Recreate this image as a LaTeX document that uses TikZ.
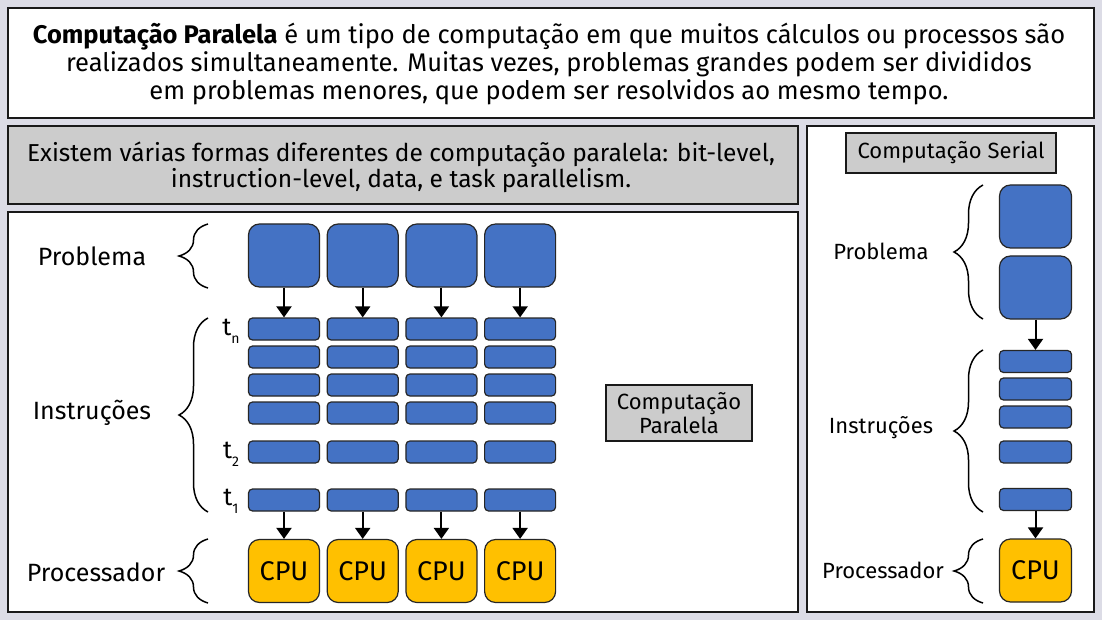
\documentclass[tikz,border=0pt]{standalone}
\usepackage{fontspec}
\setmainfont{Fira Sans}
\usetikzlibrary{arrows.meta, decorations.pathreplacing}
\definecolor{backdrop}{RGB}{220,220,230}
\definecolor{taskblue}{RGB}{68,114,196}
\definecolor{cpuyellow}{RGB}{255,192,0}
\definecolor{taggray}{RGB}{204,204,204}

\begin{document}
\begin{tikzpicture}[x=1pt, y=-1pt, >={Triangle[length=11pt, width=15pt]},
    panel/.style={draw=black!90, line width=2pt, fill=white},
    tag/.style={draw=black!90, line width=1.6pt, fill=taggray, align=center,
        inner sep=0pt, font=\fontsize{22}{24}\selectfont},
    block/.style={draw=black!85, line width=1.2pt, fill=taskblue, rounded corners=11pt,
        minimum width=71pt, minimum height=63pt, inner sep=0pt},
    instr/.style={block, rounded corners=4pt, minimum height=22pt},
    cpu/.style={block, fill=cpuyellow, font=\fontsize{27}{28}\selectfont},
    curly/.style={decorate, decoration={brace, amplitude=29pt}, line width=1.5pt},
    flow/.style={->, line width=2pt},
    side/.style={font=\fontsize{25}{28}\selectfont},
    sideR/.style={font=\fontsize{22}{24}\selectfont},
    tlabel/.style={font=\fontsize{25}{28}\selectfont}]
    % background and panels
    \fill[backdrop] (0,0) rectangle (1102,620);
    \draw[panel] (8,8) rectangle (1094,118);
    \draw[panel, fill=taggray] (8,126) rectangle (798,204);
    \draw[panel] (8,212) rectangle (798,612);
    \draw[panel] (807,126) rectangle (1094,612);

    \node[align=center, font=\fontsize{25.5}{28}\selectfont] (intro) at (549,64)
        {{\bfseries Computação Paralela} é um tipo de computação em que muitos cálculos ou processos são\\
         realizados simultaneamente. Muitas vezes, problemas grandes podem ser divididos\\
         em problemas menores, que podem ser resolvidos ao mesmo tempo.};
    \node[align=center, font=\fontsize{24.5}{26}\selectfont] (forms) at (401,167)
        {Existem várias formas diferentes de computação paralela: bit-level,\\
         instruction-level, data, e task parallelism.};

    % parallel side
    \foreach \i in {0,...,3} {
        \pgfmathsetmacro{\cx}{284+78.7*\i}
        \node[block] (p\i) at (\cx,255.5) {};
        \foreach \r/\ry in {6/329, 5/357, 4/385, 3/413, 2/452, 1/500}
            \node[instr] (r\r-\i) at (\cx,\ry) {};
        \node[cpu] (c\i) at (\cx,571) {CPU};
        \draw[flow] (p\i) -- (r6-\i);
        \draw[flow] (r1-\i) -- (c\i);
    }
    \node[tlabel] (tn) at (231,331) {t\raisebox{-8pt}{\fontsize{14}{14}\selectfont n}};
    \node[tlabel] (t2) at (231,454) {t\raisebox{-8pt}{\fontsize{14}{14}\selectfont 2}};
    \node[tlabel] (t1) at (231,501) {t\raisebox{-8pt}{\fontsize{14}{14}\selectfont 1}};

    \draw[curly] (208,288) -- (208,224);
    \draw[curly] (208,512) -- (208,318);
    \draw[curly] (208,603) -- (208,539);
    \node[side] (probL) at (92,256) {Problema};
    \node[side] (instL) at (92,413) {Instruções};
    \node[side] (procL) at (96,572) {Processador};

    \node[tag, minimum width=146pt, minimum height=56pt] (partag) at (679,413) {Computação\\Paralela};

    % serial side
    \node[tag, minimum width=210pt, minimum height=40pt] (sertag) at (951,153) {Computação Serial};
    \node[block, minimum width=72pt] (sp1) at (1035.5,216.5) {};
    \node[block, minimum width=72pt] (sp2) at (1035.5,287.5) {};
    \foreach \r/\ry in {5/361.5, 4/389, 3/417, 2/452, 1/499.5}
        \node[instr, minimum width=72pt] (s\r) at (1035.5,\ry) {};
    \node[cpu, minimum width=72pt] (sc) at (1035.5,570.5) {CPU};
    \draw[flow] (sp2) -- (s5);
    \draw[flow] (s1) -- (sc);

    \draw[curly] (983,319) -- (983,185);
    \draw[curly] (983,512) -- (983,350);
    \draw[curly] (983,603) -- (983,539);
    \node[sideR] (probR) at (881,251) {Problema};
    \node[sideR] (instR) at (881,428) {Instruções};
    \node[sideR] (procR) at (883,570) {Processador};
\end{tikzpicture}
\end{document}
